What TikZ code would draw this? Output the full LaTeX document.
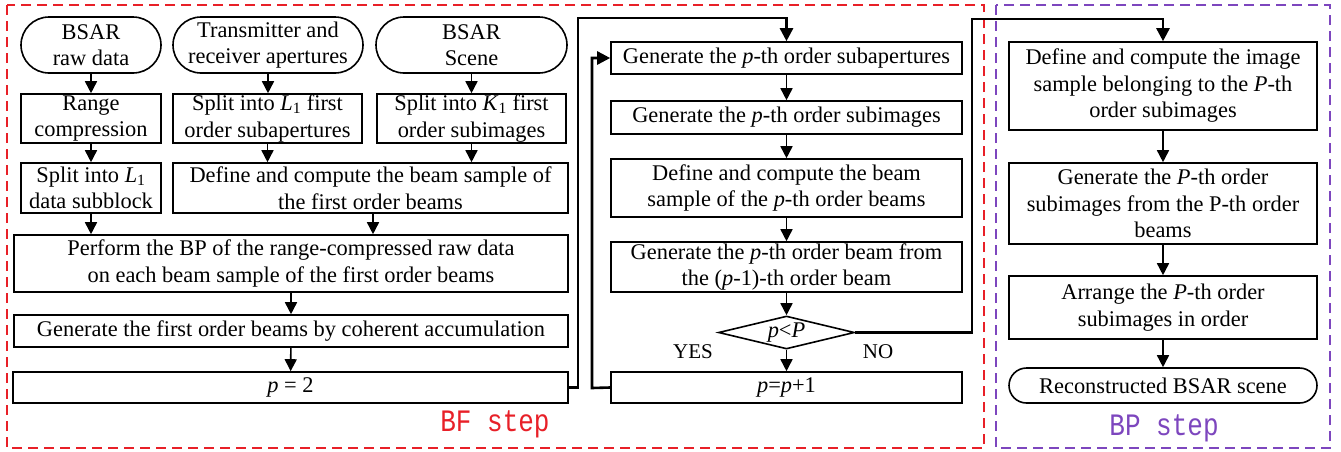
\documentclass[tikz,border=0pt]{standalone}
\usepackage{fontspec}
\setmainfont{Liberation Serif}
\newfontfamily\labelmono{Liberation Mono}
\usetikzlibrary{arrows.meta,shapes.geometric}
\definecolor{bfred}{RGB}{232,32,40}
\definecolor{bppurple}{RGB}{125,70,190}
\begin{document}
\begin{tikzpicture}[x=1pt,y=-1pt,
  every node/.style={font=\fontsize{22.4}{26.5}\selectfont, align=center, inner sep=0pt},
  box/.style={draw, line width=1.6pt, rectangle},
  term/.style={draw, line width=1.6pt, rectangle},
  conn/.style={line width=1.6pt, -{Triangle[length=12pt,width=12pt]}},
  loopline/.style={line width=2.6pt, -{Triangle[length=13pt,width=13pt]}},
  steplabel/.style={font=\labelmono\fontsize{26}{26}\selectfont},
  smalllabel/.style={font=\fontsize{21}{26}\selectfont}]
\fill[white] (0,0) rectangle (1341,451);
\useasboundingbox (0,0) rectangle (1341,451);
% group frames
\draw[bfred, line width=1.5pt, dash pattern=on 10pt off 6pt] (7,5) rectangle (984,448);
\draw[bppurple, line width=1.5pt, dash pattern=on 10pt off 6pt] (996,5) rectangle (1330,448);
% left part
\node[term, rounded corners=28pt, minimum width=140, minimum height=56] (t1) at (91,45) {BSAR\\raw data};
\node[term, rounded corners=28pt, minimum width=190, minimum height=56] (t2) at (268,45) {Transmitter and\\receiver apertures};
\node[term, rounded corners=28pt, minimum width=191, minimum height=56] (t3) at (471.5,45) {BSAR\\Scene};
\node[box, minimum width=140, minimum height=49] (b1) at (91,118.5) {Range\\compression};
\node[box, minimum width=189, minimum height=49] (b2) at (267.5,118.5) {Split into \textit{L}\textsubscript{1} first\\order subapertures};
\node[box, minimum width=189, minimum height=49] (b3) at (471.5,118.5) {Split into \textit{K}\textsubscript{1} first\\order subimages};
\node[box, minimum width=140, minimum height=50] (b4) at (91,188) {Split into \textit{L}\textsubscript{1}\\data subblock};
\node[box, minimum width=395, minimum height=50] (b5) at (370.5,188) {Define and compute the beam sample of\\the first order beams};
\node[box, minimum width=554, minimum height=57] (b6) at (291,263.5) {Perform the BP of the range-compressed raw data\\on each beam sample of the first order beams};
\node[box, minimum width=554, minimum height=32] (b7) at (291,331) {Generate the first order beams by coherent accumulation};
\node[box, minimum width=555, minimum height=31] (b8) at (290.5,387.5) {\textit{p} = 2};
% middle part
\node[box, minimum width=351, minimum height=32] (m1) at (786.5,58) {Generate the \textit{p}-th order subapertures};
\node[box, minimum width=351, minimum height=33] (m2) at (786.5,117.5) {Generate the \textit{p}-th order subimages};
\node[box, minimum width=351, minimum height=58] (m3) at (786.5,188) {Define and compute the beam\\sample of the \textit{p}-th order beams};
\node[box, minimum width=351, minimum height=50] (m4) at (786.5,267) {Generate the \textit{p}-th order beam from\\the (\textit{p}-1)-th order beam};
\node[draw, line width=1.6pt, shape=diamond, aspect=4, minimum width=136, minimum height=33] (d) at (786.5,332.5) {\textit{p}{<}\textit{P}};
\node[box, minimum width=351, minimum height=31] (m5) at (786.5,387.5) {\textit{p}=\textit{p}+1};
\node[smalllabel] (yes) at (693,352) {YES};
\node[smalllabel] (no) at (878,352) {NO};
% right part
\node[box, minimum width=308, minimum height=88] (r1) at (1163,86) {Define and compute the image\\sample belonging to the \textit{P}-th\\order subimages};
\node[box, minimum width=308, minimum height=81] (r2) at (1163,203.5) {Generate the \textit{P}-th order\\subimages from the P-th order\\beams};
\node[box, minimum width=308, minimum height=63] (r3) at (1163,307.5) {Arrange the \textit{P}-th order\\subimages in order};
\node[term, rounded corners=17.5pt, minimum width=308, minimum height=35] (r4) at (1163,385.5) {Reconstructed BSAR scene};
% step labels
\node[steplabel, text=bfred] (bf) at (495,424) {\scalebox{1}[1.2]{BF step}};
\node[steplabel, text=bppurple] (bp) at (1164,428) {\scalebox{1}[1.2]{BP step}};
% connectors
\draw[conn] (t1) -- (b1);
\draw[conn] (b1) -- (b4);
\draw[conn] (t2.south) -- (t2.south |- b2.north);
\draw[conn] (t3.south) -- (t3.south |- b3.north);
\draw[conn] (b2.south) -- (b2.south |- b5.north);
\draw[conn] (b3.south) -- (b3.south |- b5.north);
\draw[conn] (b4.south) -- (b4.south |- b6.north);
\draw[conn] ([xshift=2.5pt]b5.south) -- ([xshift=2.5pt]b5.south |- b6.north);
\draw[conn] (b6) -- (b7);
\draw[conn] (b7) -- (b8);
\draw[conn] (m1) -- (m2);
\draw[conn] (m2) -- (m3);
\draw[conn] (m3) -- (m4);
\draw[conn] (m4) -- (d);
\draw[conn] (d) -- (m5);
\draw[conn] (r1) -- (r2);
\draw[conn] (r2) -- (r3);
\draw[conn] (r3) -- (r4);
\coordinate (c1) at (578,18);
\coordinate (c2) at (592,388);
\coordinate (c3) at (972,19);
\draw[loopline] (b8.east) -| (c1) -| (m1.north);
\draw[loopline] (m5.west) -- (c2) |- (m1.west);
\draw[loopline] (d.east) -| (c3) -| (r1.north);
\end{tikzpicture}
\end{document}
